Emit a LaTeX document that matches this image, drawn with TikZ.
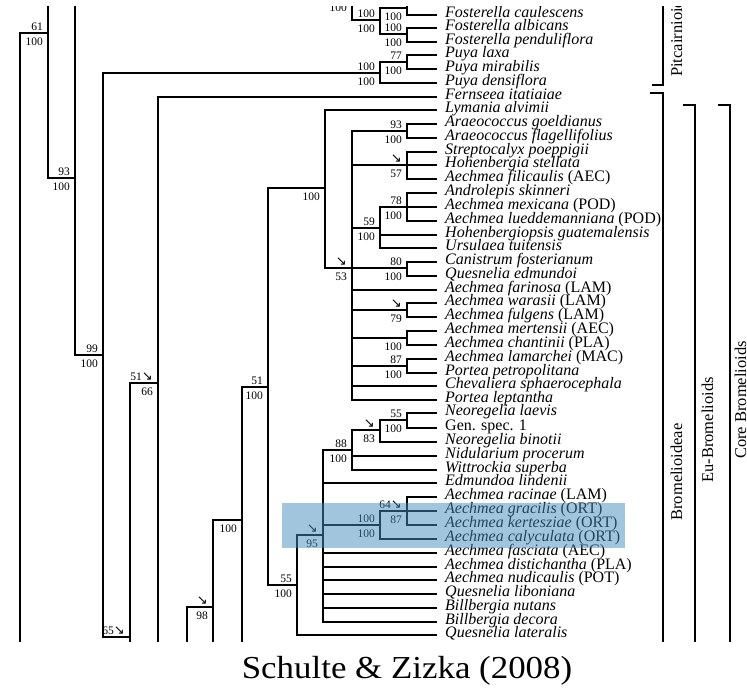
\documentclass[tikz,border=0pt]{standalone}
\usepackage{fontspec}
\setmainfont{Liberation Serif}
\newfontfamily\arrowfont{DejaVu Sans}
\newcommand{\sea}{{\arrowfont\fontsize{13}{13}\selectfont ↘}}
\tikzset{
  br/.style={line width=1.5pt},
  taxon/.style={anchor=base west, inner sep=0pt, font=\fontsize{16}{16}\selectfont},
  bsup/.style={anchor=south east, inner sep=0pt, xshift=-5pt, yshift=2.5pt, font=\fontsize{11.5}{12}\selectfont},
  bslow/.style={anchor=north east, inner sep=0pt, xshift=-5pt, yshift=-4.5pt, font=\fontsize{11.5}{12}\selectfont},
  clade/.style={rotate=90, anchor=base, inner sep=0pt, font=\fontsize{16.5}{17}\selectfont},
  hl/.style={fill={rgb,255:red,70;green,140;blue,190}, opacity=0.5},
}
\begin{document}
\begin{tikzpicture}[x=1pt, y=-1pt]
\useasboundingbox (0,0) rectangle (747,688);
\begin{scope}
  \clip (0,6) rectangle (747,641);
  % taxa
  \foreach \yy/\txt [count=\i from 0] in {
    15/\textit{Fosterella caulescens},
    28/\textit{Fosterella albicans},
    42/\textit{Fosterella penduliflora},
    55/\textit{Puya laxa},
    69/\textit{Puya mirabilis},
    83/\textit{Puya densiflora},
    97/\textit{Fernseea itatiaiae},
    110/\textit{Lymania alvimii},
    124/\textit{Araeococcus goeldianus},
    138/\textit{Araeococcus flagellifolius},
    152/\textit{Streptocalyx poeppigii},
    165/\textit{Hohenbergia stellata},
    179/\textit{Aechmea filicaulis} (AEC),
    193/\textit{Androlepis skinneri},
    207/\textit{Aechmea mexicana} (POD),
    221/\textit{Aechmea lueddemanniana}\ (POD),
    235/\textit{Hohenbergiopsis guatemalensis},
    248/\textit{Ursulaea tuitensis},
    262/\textit{Canistrum fosterianum},
    276/\textit{Quesnelia edmundoi},
    290/\textit{Aechmea farinosa} (LAM),
    303/\textit{Aechmea warasii} (LAM),
    317/\textit{Aechmea fulgens} (LAM),
    331/\textit{Aechmea mertensii} (AEC),
    345/\textit{Aechmea chantinii} (PLA),
    359/\textit{Aechmea lamarchei} (MAC),
    373/\textit{Portea petropolitana},
    386/\textit{Chevaliera sphaerocephala},
    400/\textit{Portea leptantha},
    413/\textit{Neoregelia laevis},
    428/Gen. spec. 1,
    442/\textit{Neoregelia binotii},
    456/\textit{Nidularium procerum},
    470/\textit{Wittrockia superba},
    483/\textit{Edmundoa lindenii},
    497/\textit{Aechmea racinae} (LAM),
    511/\textit{Aechmea gracilis} (ORT),
    525/\textit{Aechmea kertesziae} (ORT),
    539/\textit{Aechmea calyculata} (ORT),
    553/\textit{Aechmea fasciata} (AEC),
    567/\textit{Aechmea distichantha} (PLA),
    580/\textit{Aechmea nudicaulis} (POT),
    594/\textit{Quesnelia liboniana},
    608/\textit{Billbergia nutans},
    622/\textit{Billbergia decora},
    635/\textit{Quesnelia lateralis}}{
    \coordinate (t\i) at (437,\yy);
    \node[taxon] (n\i) at (445,\yy+2.5) {\txt};
  }
  % cut ends
  \coordinate (top) at (0,-20);
  \coordinate (bot) at (0,700);
  % inner nodes
  \coordinate (Fos1) at (407,8);
  \coordinate (Fos2) at (407,34);
  \coordinate (Fos3) at (380,20);
  \coordinate (Fos4) at (352,-1);
  \coordinate (Puya1) at (407,62);
  \coordinate (Puya2) at (380,73);
  \coordinate (N20) at (20,700);
  \coordinate (N48) at (48,33);
  \coordinate (N75) at (75,178);
  \coordinate (N103) at (103,355);
  \coordinate (N130) at (130,637);
  \coordinate (N158) at (158,383);
  \coordinate (N187) at (187,700);
  \coordinate (N213) at (213,607);
  \coordinate (N242) at (242,520);
  \coordinate (N268) at (268,387);
  \coordinate (N325) at (325,188);
  \coordinate (N352) at (352,268);
  \coordinate (Arae) at (407,131);
  \coordinate (Strep) at (407,165);
  \coordinate (N380) at (380,228);
  \coordinate (Andr) at (407,207);
  \coordinate (CanQ) at (407,268);
  \coordinate (War) at (407,310);
  \coordinate (Mert) at (407,338);
  \coordinate (Lam) at (407,366);
  \coordinate (N297) at (297,585);
  \coordinate (N323) at (323,535);
  \coordinate (Nb352) at (352,450);
  \coordinate (Nb380) at (380,430);
  \coordinate (Neo) at (407,420);
  \coordinate (Nc380) at (380,525);
  \coordinate (Aech) at (407,511);
  % branches
  \foreach \a/\b in {Fos1/t0, Fos2/t1, Fos2/t2, Fos3/Fos1, Fos3/Fos2, Fos4/Fos3,
      Puya1/t3, Puya1/t4, Puya2/Puya1, Puya2/t5,
      N20/N48, N48/N75, N75/N103, N103/Puya2, N103/N130,
      N130/N158, N158/t6, N187/N213, N213/N242, N242/N268,
      N268/N325, N268/N297, N325/t7, N325/N352,
      N352/Arae, N352/Strep, N352/N380, N352/CanQ, N352/t20, N352/War,
      N352/Mert, N352/Lam, N352/t27, N352/t28,
      Arae/t8, Arae/t9, Strep/t10, Strep/t11, Strep/t12,
      N380/Andr, N380/t16, N380/t17, Andr/t13, Andr/t14, Andr/t15,
      CanQ/t18, CanQ/t19, War/t21, War/t22, Mert/t23, Mert/t24, Lam/t25, Lam/t26,
      N297/N323, N297/t45, N323/Nb352, N323/t34, N323/Nc380,
      N323/t39, N323/t40, N323/t41, N323/t42, N323/t43, N323/t44,
      Nb352/Nb380, Nb352/t32, Nb352/t33, Nb380/Neo, Nb380/t31, Neo/t29, Neo/t30,
      Nc380/Aech, Nc380/t38, Aech/t35, Aech/t36, Aech/t37}
    \draw[br] (\a) |- (\b);
  \foreach \a in {Fos1, Fos4, N48, N75}
    \draw[br] (\a) -- (\a |- top);
  \foreach \a in {N130, N158, N213, N242}
    \draw[br] (\a) -- (\a |- bot);
  % support values
  \foreach \a/\u/\l in {Fos1//100, Fos4//100, Fos2/100/100, Fos3/100/100,
      Puya1/77/100, Puya2/100/100, N48/61/100, N75/93/100, N103/99/100,
      N130/65\sea/, N158/51\sea/66, N213/\sea/98, N242//100, N268/51/100,
      N325//100, N352/\sea/53, Arae/93/100, Strep/\sea/57, N380/59/100,
      Andr/78/100, CanQ/80/100, War/\sea/79, Mert//100, Lam/87/100,
      N297/55/100, N323/\sea/95, Nb352/88/100, Nb380/\sea/83, Neo/55/100,
      Nc380/100/100, Aech/64\sea/87}{
    \node[bsup] (\a-u) at (\a) {\u};
    \node[bslow] (\a-l) at (\a) {\l};
  }
  % clades
  \draw[br] (652,85) -- (663,85) -- (663,0);
  \node[clade, anchor=base west] (pit) at (682,77) {Pitcairnioideae};
  \draw[br] (650,93) -- (663,93) -- (663,660);
  \node[clade] (brom) at (682,472) {Bromelioideae};
  \draw[br] (683,105) -- (695,105) -- (695,660);
  \node[clade] (eub) at (713,430) {Eu-Bromelioids};
  \draw[br] (718,105) -- (730,105) -- (730,660);
  \node[clade] (core) at (746,400) {Core Bromelioids};
  % highlight
  \fill[hl] (282,503) rectangle (625,548);
\end{scope}
\node[anchor=base, inner sep=0pt, xscale=1.09, font=\fontsize{32}{34}\selectfont] (title) at (407,678) {Schulte \& Zizka (2008)};
\end{tikzpicture}
\end{document}
